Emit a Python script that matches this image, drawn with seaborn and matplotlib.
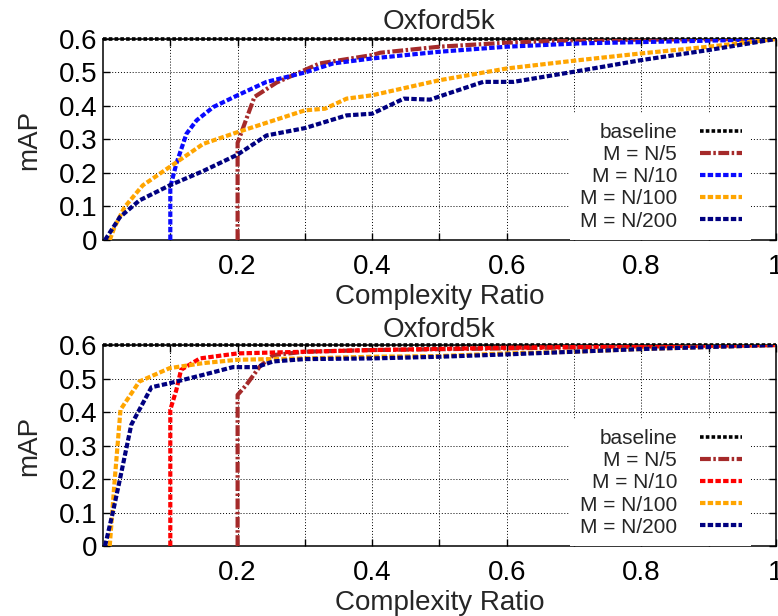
import matplotlib
matplotlib.use("Agg")
import matplotlib.pyplot as plt
import seaborn as sns
import numpy as np

# ---------------- data ----------------
title = "Oxford5k"
xlabel = "Complexity Ratio"
ylabel = "mAP"
labels = ["baseline", "M = N/5", "M = N/10", "M = N/100", "M = N/200"]

x_tick_vals = [0.1, 0.2, 0.3, 0.4, 0.5, 0.6, 0.7, 0.8, 0.9, 1.0]
x_tick_labels = ["", "0.2", "", "0.4", "", "0.6", "", "0.8", "", "1"]
y_tick_vals = [0, 0.1, 0.2, 0.3, 0.4, 0.5, 0.6]
y_tick_labels = ["0", "0.1", "0.2", "0.3", "0.4", "0.5", "0.6"]

baseline_x = [0.0, 1.0]
baseline_y = [0.6, 0.6]

# top panel
x_n5_a = [0.2, 0.2, 0.225, 0.258, 0.297, 0.322, 0.4, 0.412, 0.5, 0.6, 0.71, 0.8, 1.0]
y_n5_a = [0.0, 0.29, 0.427, 0.47, 0.505, 0.527, 0.552, 0.559, 0.577, 0.589, 0.597, 0.598, 0.6]
x_n10_a = [0.1, 0.1, 0.109, 0.124, 0.139, 0.164, 0.2, 0.243, 0.3, 0.342, 0.4, 0.5, 0.6, 0.71, 0.9, 1.0]
y_n10_a = [0.0, 0.158, 0.228, 0.317, 0.357, 0.397, 0.432, 0.472, 0.5, 0.527, 0.542, 0.562, 0.577, 0.587, 0.595, 0.6]
x_n100_a = [0.01, 0.017, 0.032, 0.059, 0.099, 0.149, 0.2, 0.3, 0.33, 0.362, 0.4, 0.5, 0.6, 0.708, 0.8, 0.9, 1.0]
y_n100_a = [0.0, 0.038, 0.098, 0.163, 0.218, 0.287, 0.322, 0.387, 0.392, 0.422, 0.432, 0.477, 0.512, 0.537, 0.557, 0.577, 0.6]
x_n200_a = [0.003, 0.025, 0.054, 0.099, 0.149, 0.2, 0.243, 0.3, 0.362, 0.4, 0.447, 0.486, 0.52, 0.565, 0.61, 0.708, 0.8, 0.9, 1.0]
y_n200_a = [0.0, 0.068, 0.118, 0.163, 0.206, 0.255, 0.312, 0.334, 0.372, 0.377, 0.422, 0.419, 0.442, 0.472, 0.472, 0.505, 0.537, 0.567, 0.6]

# bottom panel
x_n5_b = [0.2, 0.2, 0.213, 0.233, 0.253, 0.3, 0.4, 0.6, 0.8, 1.0]
y_n5_b = [0.0, 0.451, 0.481, 0.536, 0.57, 0.58, 0.585, 0.59, 0.596, 0.6]
x_n10_b = [0.1, 0.1, 0.109, 0.116, 0.144, 0.2, 0.3, 0.4, 0.6, 0.8, 1.0]
y_n10_b = [0.0, 0.407, 0.466, 0.526, 0.56, 0.575, 0.58, 0.585, 0.592, 0.596, 0.6]
x_n100_b = [0.01, 0.017, 0.026, 0.054, 0.099, 0.149, 0.2, 0.3, 0.4, 0.5, 0.6, 0.7, 0.8, 1.0]
y_n100_b = [0.0, 0.188, 0.407, 0.491, 0.531, 0.546, 0.556, 0.56, 0.565, 0.567, 0.575, 0.58, 0.588, 0.6]
x_n200_b = [0.003, 0.015, 0.025, 0.042, 0.072, 0.099, 0.149, 0.193, 0.228, 0.253, 0.3, 0.4, 0.5, 0.6, 0.8, 1.0]
y_n200_b = [0.0, 0.104, 0.198, 0.362, 0.474, 0.486, 0.511, 0.534, 0.534, 0.551, 0.558, 0.56, 0.565, 0.572, 0.588, 0.6]

colors_a = ["#000000", "#a52a2a", "#0a0aff", "#ffa500", "#000080"]
colors_b = ["#000000", "#a52a2a", "#ff0000", "#ffa500", "#000080"]

# ---------------- style ----------------
sns.set_style("ticks")
plt.rcParams["font.family"] = ["Liberation Sans", "DejaVu Sans"]
plt.rcParams["font.size"] = 20

FS = 20
LW = 3.0
dash = (0, (1.3, 0.55))
dashdot = (0, (2.6, 0.6, 0.6, 0.6))
styles = [(0, (1.0, 0.6)), dashdot, dash, dash, dash]

fig = plt.figure(figsize=(7.78, 6.16), dpi=100)
ax_top = fig.add_axes([0.1324, 0.6104, 0.865, 0.3263])
ax_bot = fig.add_axes([0.1324, 0.1136, 0.865, 0.3263])


def draw(ax, series, colors, title_pad):
    for (xs, ys), lab, c, ls in zip(series, labels, colors, styles):
        sns.lineplot(x=xs, y=ys, ax=ax, color=c, linewidth=LW if lab != "baseline" else 2.6,
                     linestyle=ls, label=lab, estimator=None, sort=False,
                     dash_capstyle="butt", clip_on=(lab != "baseline"), zorder=3)
    ax.set_xlim(0, 1)
    ax.set_ylim(0, 0.6)
    ax.set_xticks(x_tick_vals)
    ax.set_xticklabels(x_tick_labels)
    ax.set_yticks(y_tick_vals)
    ax.set_yticklabels(y_tick_labels)
    ax.grid(True, color="black", linestyle=(0, (1, 2)), linewidth=0.7)
    ax.tick_params(direction="in", length=5, width=1, top=True, right=True,
                   labelsize=FS, colors="black")
    ax.tick_params(axis="x", pad=10)
    ax.tick_params(axis="y", pad=4)
    for s in ax.spines.values():
        s.set_linewidth(1.1)
        s.set_color("black")
    ax.set_xlabel(xlabel, fontsize=FS, labelpad=3)
    ax.set_ylabel(ylabel, fontsize=FS, labelpad=12)
    ax.set_title(title, fontsize=FS, pad=title_pad)
    leg = ax.legend(loc="lower right", bbox_to_anchor=(0.963, 0.0), markerfirst=False,
                    fontsize=15, handlelength=2.0, handletextpad=1.1,
                    labelspacing=0.15, borderpad=0.45, borderaxespad=0.0,
                    frameon=True, fancybox=False, framealpha=1.0)
    leg.get_frame().set_facecolor("white")
    leg.get_frame().set_edgecolor("white")
    leg.get_frame().set_linewidth(0)
    leg.set_zorder(2.5)


draw(ax_top, [(baseline_x, baseline_y), (x_n5_a, y_n5_a), (x_n10_a, y_n10_a),
              (x_n100_a, y_n100_a), (x_n200_a, y_n200_a)], colors_a, 7)
draw(ax_bot, [(baseline_x, baseline_y), (x_n5_b, y_n5_b), (x_n10_b, y_n10_b),
              (x_n100_b, y_n100_b), (x_n200_b, y_n200_b)], colors_b, 6)

fig.savefig("out.png", dpi=100)
